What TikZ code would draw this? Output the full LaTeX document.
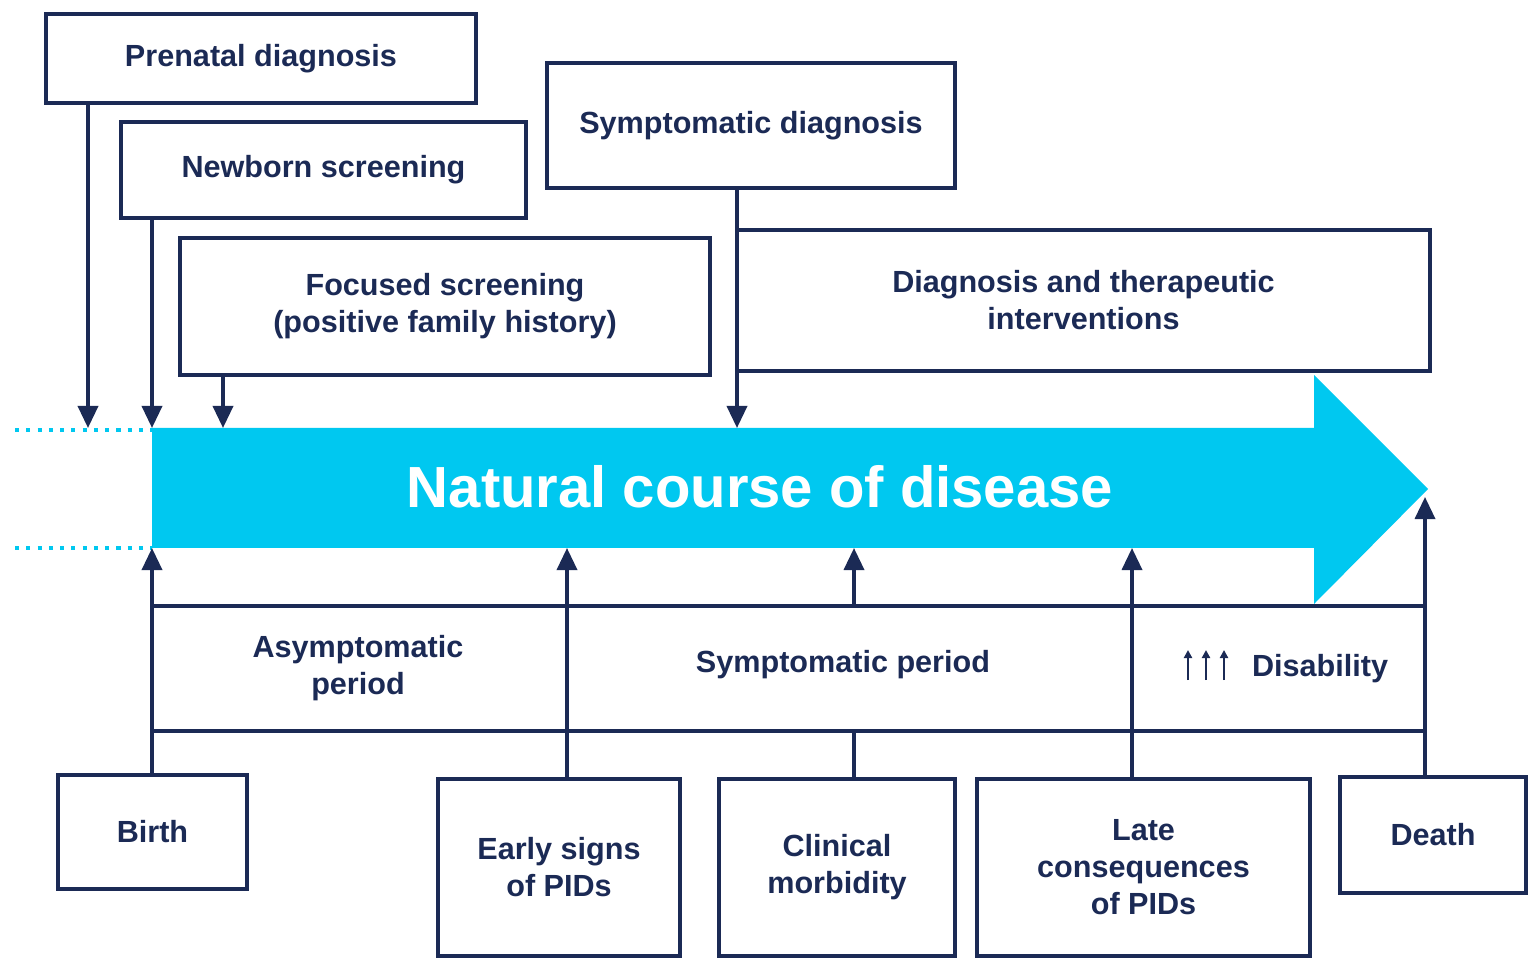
\documentclass[tikz,border=0pt]{standalone}
\usepackage{fontspec}
\setmainfont{Liberation Sans}
\usepackage{xcolor}
\usetikzlibrary{arrows.meta}
\definecolor{navy}{HTML}{1B2A55}
\definecolor{flow}{HTML}{00C8F0}

\begin{document}
\begin{tikzpicture}[
    x=0.01cm, y=-0.01cm,
    line width=1pt, draw=navy,
    every node/.style={text=navy, font=\fontsize{8.7}{10.5}\selectfont\bfseries, align=center},
    box/.style={draw=navy, line width=1pt, inner sep=0pt},
    tip/.style={-{Triangle[length=0.22cm,width=0.2cm]}, navy}
]
\useasboundingbox (0,0) rectangle (1536,967);
% top boxes
\node[box, minimum width=4.30cm, minimum height=0.89cm] (prenatal) at (261,58.5) {Prenatal diagnosis};
\node[box, minimum width=4.05cm, minimum height=0.96cm] (newborn) at (323.5,170) {Newborn screening};
\node[box, minimum width=5.30cm, minimum height=1.37cm] (focused) at (445,306.5) {Focused screening\\(positive family history)};
\node[box, minimum width=4.08cm, minimum height=1.25cm] (sympdiag) at (751,125.5) {Symptomatic diagnosis};
\node[box, minimum width=6.93cm, minimum height=1.41cm] (therapy) at (1083.5,300.5) {Diagnosis and therapeutic\\interventions};

% main arrow
\fill[flow] (152,428) -- (1314,428) -- (1314,375) -- (1428,489) -- (1314,604) -- (1314,548) -- (152,548) -- cycle;
\node[text=white, font=\fontsize{16.5}{18}\selectfont\bfseries] (course) at (760,487) {Natural course of disease};
\draw[flow, dotted, line width=1.2pt] (15,430) -- (152,430);
\draw[flow, dotted, line width=1.2pt] (15,548) -- (152,548);

% arrows onto the course
\coordinate (a1) at (88,428);
\coordinate (a2) at (152,428);
\coordinate (a3) at (223,428);
\coordinate (a4) at (737,428);
\draw[tip] (prenatal.south -| a1) -- (a1);
\draw[tip] (newborn.south -| a2) -- (a2);
\draw[tip] (focused.south -| a3) -- (a3);
\draw[tip] (sympdiag.south -| a4) -- (a4);

% periods
\node[box, minimum width=12.73cm, minimum height=1.25cm] (periods) at (788.5,668.5) {};
\node (asym) at (358,668) {Asymptomatic\\period};
\node (sym) at (843,665) {Symptomatic period};
\node (disab) at (1320,669) {Disability};
\foreach \i in {1188,1206,1224}
  \draw[-{Triangle[length=0.08cm,width=0.08cm]}, line width=0.6pt] (\i,680) -- (\i,650);

% bottom boxes
\node[box, minimum width=1.89cm, minimum height=1.14cm] (birth) at (152.5,832) {Birth};
\node[box, minimum width=2.42cm, minimum height=1.77cm] (early) at (559,867.5) {Early signs\\of PIDs};
\node[box, minimum width=2.36cm, minimum height=1.77cm] (clinical) at (837,867.5) {Clinical\\morbidity};
\node[box, minimum width=3.33cm, minimum height=1.77cm] (late) at (1143.5,867.5) {Late\\consequences\\of PIDs};
\node[box, minimum width=1.86cm, minimum height=1.16cm] (death) at (1433,835) {Death};

% arrows from below
\coordinate (b1) at (152,548);
\coordinate (b2) at (567,548);
\coordinate (b3) at (854,548);
\coordinate (b4) at (1132,548);
\coordinate (b5) at (1425,497);
\draw[tip] (birth.north -| b1) -- (b1);
\draw[tip] (early.north -| b2) -- (b2);
\draw (clinical.north -| b3) -- (periods.south -| b3);
\draw[tip] (periods.north -| b3) -- (b3);
\draw[tip] (late.north -| b4) -- (b4);
\draw[tip] (death.north -| b5) -- (b5);
\end{tikzpicture}
\end{document}
